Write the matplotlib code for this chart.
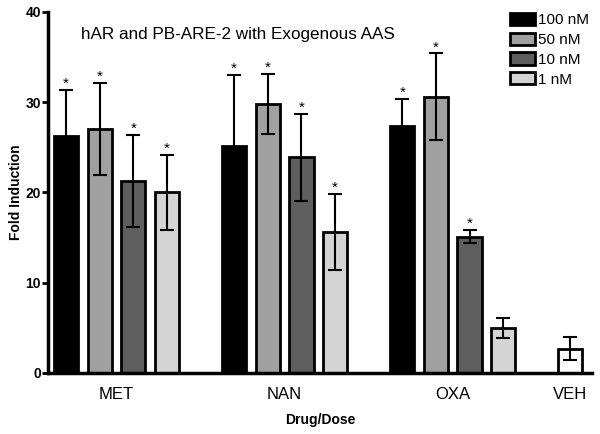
import numpy as np
import matplotlib.pyplot as plt

plt.rcParams['font.family'] = ['Liberation Sans', 'DejaVu Sans']

drugs = ['MET', 'NAN', 'OXA']
doses = ['100 nM', '50 nM', '10 nM', '1 nM']
dose_colors = ['#000000', '#a0a0a0', '#5e5e5e', '#d4d4d4']

# mean fold induction and error, rows = drug, cols = dose
means = [[26.2, 27.0, 21.3, 20.0],
         [25.1, 29.8, 23.9, 15.6],
         [27.4, 30.6, 15.1, 5.0]]
errs = [[5.2, 5.1, 5.1, 4.2],
        [7.9, 3.3, 4.8, 4.2],
        [3.0, 4.8, 0.7, 1.1]]
stars = [[1, 1, 1, 1],
         [1, 1, 1, 1],
         [1, 1, 1, 0]]
veh_mean = 2.7
veh_err = 1.3

fig = plt.figure(figsize=(6, 4.34), dpi=100)
ax = fig.add_axes([0.08, 0.1406, 0.907, 0.832])

group_step = 5
width = 0.72
for j, dose in enumerate(doses):
    xs = [i * group_step + j for i in range(len(drugs))]
    m = [means[i][j] for i in range(len(drugs))]
    e = [errs[i][j] for i in range(len(drugs))]
    ax.bar(xs, m, width, color=dose_colors[j], edgecolor='black', linewidth=2, label=dose, zorder=2)
    ax.errorbar(xs, m, yerr=e, fmt='none', ecolor='black', elinewidth=1.5, capsize=5, capthick=1.5, zorder=3)
    for i in range(len(drugs)):
        if stars[i][j]:
            ax.text(xs[i], m[i] + e[i] - 0.1, '*', ha='center', va='bottom', fontsize=11)

veh_x = len(drugs) * group_step
ax.bar([veh_x], [veh_mean], width, color='white', edgecolor='black', linewidth=2, zorder=2)
ax.errorbar([veh_x], [veh_mean], yerr=[veh_err], fmt='none', ecolor='black', elinewidth=1.5, capsize=5, capthick=1.5, zorder=3)

ax.set_xlim(-0.54, 15.65)
ax.set_ylim(0, 40)
ax.set_yticks([0, 10, 20, 30, 40])
for lab in ax.get_yticklabels():
    lab.set_fontweight('bold')
ax.tick_params(axis='y', labelsize=10, width=2, length=4, pad=1)
ax.set_xticks([1.5, 6.5, 11.5, veh_x])
ax.set_xticklabels(drugs + ['VEH'], fontsize=12)
ax.tick_params(axis='x', length=0, pad=10)

for s in ['top', 'right']:
    ax.spines[s].set_visible(False)
ax.spines['left'].set_linewidth(2.5)
ax.spines['bottom'].set_linewidth(2.5)

ax.set_ylabel('Fold Induction', fontsize=10, fontweight='bold', labelpad=2)
ax.set_xlabel('Drug/Dose', fontsize=10, fontweight='bold', labelpad=8)
ax.text(0.06, 0.925, 'hAR and PB-ARE-2 with Exogenous AAS', transform=ax.transAxes, fontsize=12.3)

leg = ax.legend(loc='upper right', bbox_to_anchor=(1.02, 1.035), frameon=False, fontsize=11,
                handlelength=1.6, handleheight=0.85, handletextpad=0.25, labelspacing=0.35)

fig.savefig('out.png', dpi=100)
